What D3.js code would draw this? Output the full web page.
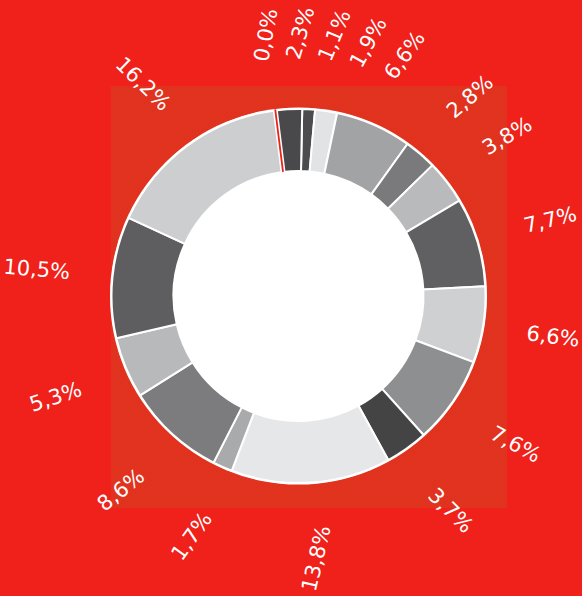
<!DOCTYPE html>
<html><head><meta charset="utf-8">
<script src="https://cdn.jsdelivr.net/npm/d3@7"></script>
<style>html,body{margin:0;padding:0;background:#f0201a;}svg{display:block;}</style>
</head><body>
<script>
// Data (clockwise from 12 o'clock)
const categories = ["A","B","C","D","E","F","G","H","I","J","K","L","M","N","O","P","Q"];
const values = [1.1, 1.9, 6.6, 2.8, 3.8, 7.7, 6.6, 7.6, 3.7, 13.8, 1.7, 8.6, 5.3, 10.5, 16.2, 0.0, 2.3];
const labels = ["1,1%","1,9%","6,6%","2,8%","3,8%","7,7%","6,6%","7,6%","3,7%","13,8%","1,7%","8,6%","5,3%","10,5%","16,2%","0,0%","2,3%"];
const colors = ["#4c4c4e","#e2e3e4","#a2a3a5","#7a7a7c","#b9babc","#606062","#cfd0d1","#8e8f91","#444445","#e6e7e8","#a9aaac","#7c7c7e","#b8b9bb","#5e5e60","#cdcecf","#e8231c","#49494b"];

const W = 582, H = 596;
const cx = 298.5, cy = 296, rOuter = 187, rInner = 125, rLabel = 263;
const minGap = 7.5 * Math.PI / 180;

const svg = d3.select("body").append("svg").attr("width", W).attr("height", H);
svg.append("rect").attr("width", W).attr("height", H).attr("fill", "#f0201a");

// textured inner panel
const defs = svg.append("defs");
const pat = defs.append("pattern").attr("id","tex").attr("width",4).attr("height",4).attr("patternUnits","userSpaceOnUse");
pat.append("rect").attr("width",4).attr("height",4).attr("fill","#e2331f");
pat.append("path").attr("d","M0,4 L4,0").attr("stroke","#d82c1c").attr("stroke-width",0.8).attr("opacity",0.6);
svg.append("rect").attr("x",111).attr("y",86).attr("width",396).attr("height",422).attr("fill","url(#tex)");

const g = svg.append("g").attr("transform", `translate(${cx},${cy})`);

const pie = d3.pie().sort(null).value(d => d.v).startAngle(0.02).endAngle(0.02 + 2*Math.PI);
const data = values.map((v,i) => ({v, label: labels[i], color: colors[i], cat: categories[i]}));
const arcs = pie(data);
const arc = d3.arc().innerRadius(rInner).outerRadius(rOuter);

g.append("circle").attr("r", rOuter + 1.5).attr("fill", "#ffffff");
g.selectAll("path.seg").data(arcs.filter(d => d.data.v > 0)).join("path")
  .attr("class","seg")
  .attr("d", arc)
  .attr("fill", d => d.data.color)
  .attr("stroke", "#ffffff").attr("stroke-width", 2).attr("stroke-linejoin","round");

// zero-value slice drawn as a thin red line with white edges
arcs.filter(d => d.data.v === 0).forEach(d => {
  const a = d.startAngle;
  const p = r => [r*Math.sin(a), -r*Math.cos(a)];
  g.append("line").attr("x1",p(rInner)[0]).attr("y1",p(rInner)[1]).attr("x2",p(rOuter)[0]).attr("y2",p(rOuter)[1])
    .attr("stroke","#ffffff").attr("stroke-width",5);
  g.append("line").attr("x1",p(rInner)[0]).attr("y1",p(rInner)[1]).attr("x2",p(rOuter+1)[0]).attr("y2",p(rOuter+1)[1])
    .attr("stroke", d.data.color).attr("stroke-width",1.8);
});

// inner white hole
g.append("circle").attr("r", rInner - 1).attr("fill", "#ffffff");

// label angles: mid-angle, pushed forward to keep a minimum angular gap
const n = arcs.length;
const mids = arcs.map(d => (d.startAngle + d.endAngle)/2);
let start = 0, bestGap = -1;
for (let i = 0; i < n; i++) {
  const prev = (i - 1 + n) % n;
  let gap = mids[i] - mids[prev]; if (gap < 0) gap += 2*Math.PI;
  if (gap > bestGap) { bestGap = gap; start = i; }
}
const labAng = new Array(n);
let last = -Infinity;
for (let k = 0; k < n; k++) {
  const i = (start + k) % n;
  let m = mids[i];
  if (k > 0 && m < last - Math.PI) m += 2*Math.PI;
  const a = Math.max(m, last + minGap);
  labAng[i] = a; last = a;
}

const texts = g.selectAll("text.lbl").data(arcs).join("text")
  .attr("class","lbl")
  .attr("text-anchor","middle")
  .attr("dominant-baseline","central")
  .attr("fill","#ffffff")
  .style("font-family","'DejaVu Sans', sans-serif")
  .style("font-size","21px")
  .text(d => d.data.label);

function place(dx) {
  texts.attr("transform", (d, i) => {
    const a = labAng[i];
    const x = rLabel*Math.sin(a) + (dx ? dx[i] : 0), y = -rLabel*Math.cos(a);
    let rot = a*180/Math.PI - 90;
    while (rot >= 80) rot -= 180;
    while (rot < -100) rot += 180;
    rot *= 0.82;
    return `translate(${x},${y}) rotate(${rot})`;
  });
}
place(null);
// keep labels inside the picture
const shift = [];
texts.each(function(d, i) {
  const b = this.getBoundingClientRect();
  let s = 0;
  if (b.right > W - 1) s = (W - 1) - b.right;
  if (b.left < 1) s = 1 - b.left;
  shift[i] = s;
});
place(shift);
</script>
</body></html>
